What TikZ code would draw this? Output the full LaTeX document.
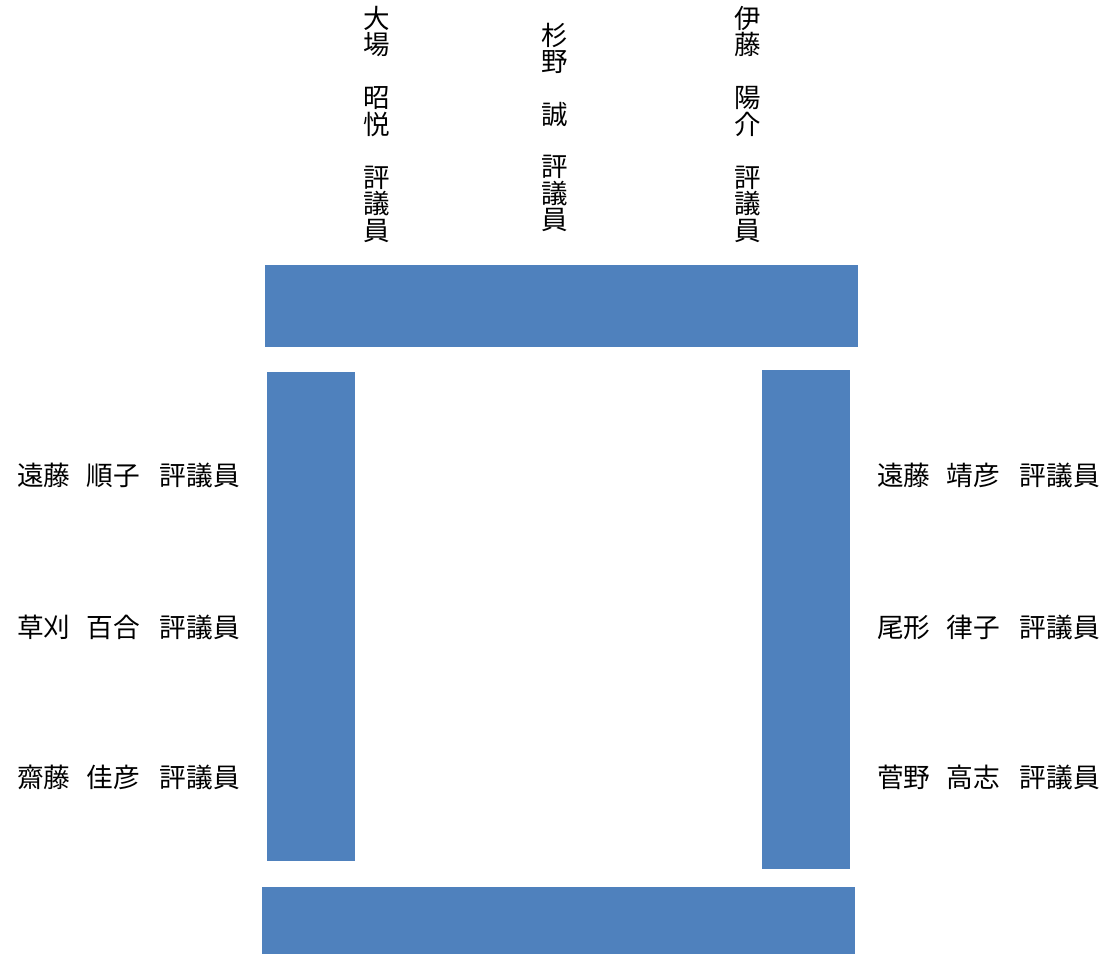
\documentclass[tikz,border=0pt]{standalone}
\usepackage{fontspec}
\setmainfont{Noto Sans CJK JP}
\definecolor{barblue}{HTML}{4F81BD}
\tikzset{
  bar/.style={fill=barblue, draw=none},
  vname/.style={align=center, inner sep=0pt, anchor=north, font=\fontsize{26.5}{26.5}\selectfont},
  hname/.style={inner sep=0pt, anchor=west, font=\fontsize{26.7}{27}\selectfont},
}
\newcommand{\gpa}{\hspace{16pt}}
\newcommand{\gpb}{\hspace{20pt}}
\begin{document}
\begin{tikzpicture}[x=1pt,y=-1pt]
\useasboundingbox (0,0) rectangle (1120,954);
% bars
\fill[bar] (265,265) rectangle (858,347);
\fill[bar] (267,372) rectangle (355,861);
\fill[bar] (762,370) rectangle (850,869);
\fill[bar] (262,887) rectangle (855,954);
% top vertical names
\node[vname] (t1) at (377,6) {大\\場\\[26.5pt]昭\\悦\\[26.5pt]評\\議\\員};
\node[vname] (t2) at (555,23) {杉\\野\\[26pt]誠\\[26pt]評\\議\\員};
\node[vname] (t3) at (748,6) {伊\\藤\\[26.5pt]陽\\介\\[26.5pt]評\\議\\員};
% left names
\node[hname] (l1) at (17,475) {遠藤\gpa 順子\gpb 評議員};
\node[hname] (l2) at (17,627) {草刈\gpa 百合\gpb 評議員};
\node[hname] (l3) at (17,777) {齋藤\gpa 佳彦\gpb 評議員};
% right names
\node[hname] (r1) at (877,475) {遠藤\gpa 靖彦\gpb 評議員};
\node[hname] (r2) at (877,627) {尾形\gpa 律子\gpb 評議員};
\node[hname] (r3) at (877,777) {菅野\gpa 高志\gpb 評議員};
\end{tikzpicture}
\end{document}
